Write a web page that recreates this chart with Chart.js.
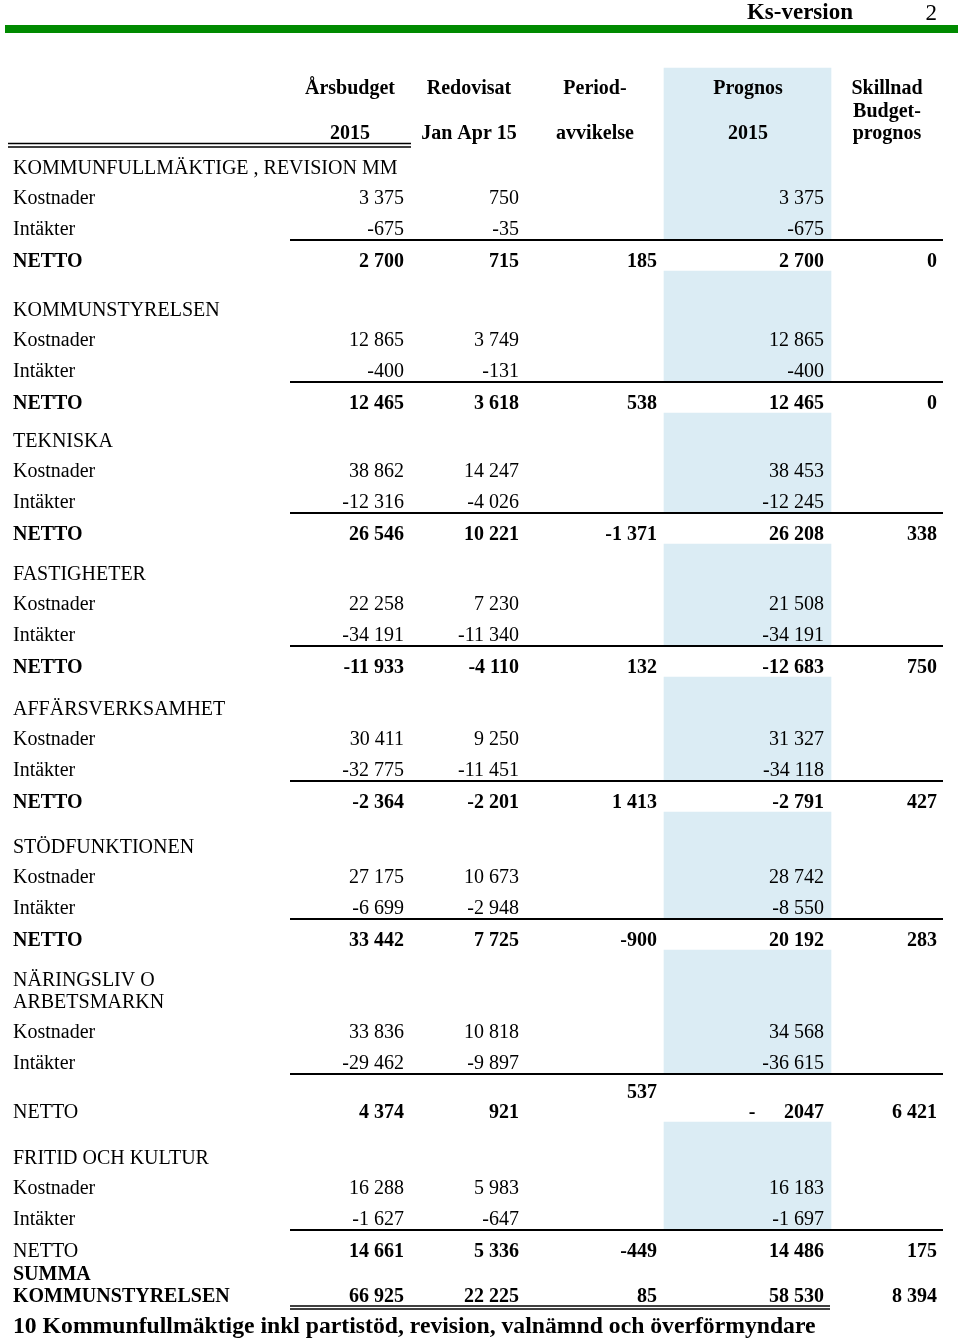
<!DOCTYPE html>
<html lang="sv">
<head>
<meta charset="utf-8">
<title>Ks-version 2</title>
<script src="https://cdn.jsdelivr.net/npm/chart.js@4/dist/chart.umd.min.js"></script>
<style>
  html, body { margin: 0; padding: 0; background: #fff; }
  #wrap { width: 960px; height: 1341px; position: relative; }
</style>
</head>
<body>
<div id="wrap"><canvas id="chart"></canvas></div>
<script>
// column headers
const headTop = ['Årsbudget', 'Redovisat', 'Period-', 'Prognos', 'Skillnad']
const headMid = ['', '', '', '', 'Budget-']
const headBottom = ['2015', 'Jan Apr 15', 'avvikelse', '2015', 'prognos']

const sections = ['KOMMUNFULLMÄKTIGE , REVISION MM', 'KOMMUNSTYRELSEN', 'TEKNISKA', 'FASTIGHETER',
  'AFFÄRSVERKSAMHET', 'STÖDFUNKTIONEN', 'NÄRINGSLIV O|ARBETSMARKN', 'FRITID OCH KULTUR']

// Kostnader (årsbudget, redovisat, prognos)
const kostBudget = [3375, 12865, 38862, 22258, 30411, 27175, 33836, 16288]
const kostRedovisat = [750, 3749, 14247, 7230, 9250, 10673, 10818, 5983]
const kostPrognos = [3375, 12865, 38453, 21508, 31327, 28742, 34568, 16183]

// Intäkter
const intBudget = [-675, -400, -12316, -34191, -32775, -6699, -29462, -1627]
const intRedovisat = [-35, -131, -4026, -11340, -11451, -2948, -9897, -647]
const intPrognos = [-675, -400, -12245, -34191, -34118, -8550, -36615, -1697]

// NETTO
const nettoBudget = [2700, 12465, 26546, -11933, -2364, 33442, 4374, 14661]
const nettoRedovisat = [715, 3618, 10221, -4110, -2201, 7725, 921, 5336]
const nettoAvvikelse = [185, 538, -1371, 132, 1413, -900, 537, -449]
const nettoPrognos = [2700, 12465, 26208, -12683, -2791, 20192, -2047, 14486]
const nettoSkillnad = [0, 0, 338, 750, 427, 283, 6421, 175]

const summaLabel = ['SUMMA', 'KOMMUNSTYRELSEN']
const summa = [66925, 22225, 85, 58530, 8394]

const pageTitle = 'Ks-version'
const pageNo = '2'
const footnote = '10 Kommunfullmäktige inkl partistöd, revision, valnämnd och överförmyndare'

// ---- layout (page units, x 0..960, y 0..1341) ----
const colRight = [404, 519, 657, 824, 937]
const colCenter = [350, 469, 595, 748, 887]
const labelX = 13
const sectionY = [167, 309, 440, 573, 708, 846, 979, 1157]
const plainNetto = [6, 7]      // sections where the NETTO label is not bold
const oddNetto = 6             // the row with the raised 537 and split "-  2047"
const serif = '"Liberation Serif", "Times New Roman", Times, serif'

function fmt(n) {
  let s = String(Math.abs(n)).replace(/\B(?=(\d{3})+(?!\d))/g, ' ')
  return (n < 0 ? '-' : '') + s
}

// row positions for every section
let rows = sections.map((name, i) => {
  let lines = name.split('|')
  let y0 = sectionY[i]
  let kost = y0 + 22 * (lines.length - 1) + 30
  let int = kost + 31
  return { lines: lines, y0: y0, kost: kost, int: int, rule: int + 12, netto: int + (i == oddNetto ? 49 : 32) }
})

// prognos shading: header block, then from under each NETTO row to the next rule
let bands = rows.map((r, i) => [i == 0 ? 68 : rows[i - 1].netto + 11, r.rule])

const tablePlugin = {
  id: 'tableText',
  afterDatasetsDraw(chart) {
    let ctx = chart.ctx
    let px = v => chart.scales.x.getPixelForValue(v)
    let py = v => chart.scales.y.getPixelForValue(v)
    let text = (t, x, y, align, bold, size) => {
      ctx.font = (bold ? 'bold ' : '') + (size || 20) + 'px ' + serif
      ctx.textAlign = align
      ctx.fillText(t, px(x), py(y) + 1.5)
    }
    let hline = (x1, x2, y, w) => {
      ctx.lineWidth = w
      ctx.beginPath()
      ctx.moveTo(px(x1), py(y))
      ctx.lineTo(px(x2), py(y))
      ctx.stroke()
    }
    ctx.save()
    ctx.fillStyle = '#000'
    ctx.strokeStyle = '#000'
    ctx.textBaseline = 'middle'

    // page head
    text(pageTitle, 853, 12, 'right', true, 23)
    text(pageNo, 937, 12, 'right', false, 23)
    ctx.fillStyle = '#008a00'
    ctx.fillRect(px(5), py(25), px(958) - px(5), py(33) - py(25))
    ctx.fillStyle = '#000'

    // column headers
    headTop.forEach((t, i) => text(t, colCenter[i], 87, 'center', true))
    headMid.forEach((t, i) => { if (t) text(t, colCenter[i], 110, 'center', true) })
    headBottom.forEach((t, i) => text(t, colCenter[i], 132, 'center', true))
    hline(8, 411, 143.5, 1.5)
    hline(8, 411, 147, 1.5)

    rows.forEach((r, i) => {
      r.lines.forEach((l, k) => text(l, labelX, r.y0 + 22 * k, 'left', false))
      text('Kostnader', labelX, r.kost, 'left', false)
      text(fmt(kostBudget[i]), colRight[0], r.kost, 'right', false)
      text(fmt(kostRedovisat[i]), colRight[1], r.kost, 'right', false)
      text(fmt(kostPrognos[i]), colRight[3], r.kost, 'right', false)

      text('Intäkter', labelX, r.int, 'left', false)
      text(fmt(intBudget[i]), colRight[0], r.int, 'right', false)
      text(fmt(intRedovisat[i]), colRight[1], r.int, 'right', false)
      text(fmt(intPrognos[i]), colRight[3], r.int, 'right', false)
      hline(290, 943, r.rule, 2)

      text('NETTO', labelX, r.netto, 'left', !plainNetto.includes(i))
      text(fmt(nettoBudget[i]), colRight[0], r.netto, 'right', true)
      text(fmt(nettoRedovisat[i]), colRight[1], r.netto, 'right', true)
      if (i == oddNetto) {
        text(fmt(nettoAvvikelse[i]), colRight[2], r.netto - 20, 'right', true)
        text('-', 752, r.netto, 'center', true)
        text(fmt(Math.abs(nettoPrognos[i])).replace(' ', ''), colRight[3], r.netto, 'right', true)
      } else {
        text(fmt(nettoAvvikelse[i]), colRight[2], r.netto, 'right', true)
        text(fmt(nettoPrognos[i]), colRight[3], r.netto, 'right', true)
      }
      text(fmt(nettoSkillnad[i]), colRight[4], r.netto, 'right', true)
    })

    // summa
    let sy = rows[rows.length - 1].netto + 23
    text(summaLabel[0], labelX, sy, 'left', true)
    text(summaLabel[1], labelX, sy + 22, 'left', true)
    summa.forEach((v, i) => text(fmt(v), colRight[i], sy + 22, 'right', true))
    hline(290, 830, sy + 33, 1.5)
    hline(290, 830, sy + 36, 1.5)

    text(footnote, labelX, sy + 52, 'left', true, 23.7)
    ctx.restore()
  }
}

let ctx = document.getElementById('chart').getContext('2d')
let chart = new Chart(ctx, {
  type: 'bar',
  data: {
    datasets: [{
      label: 'Prognos',
      data: bands.map(b => ({ x: colCenter[3] - 0.5, y: b })),
      backgroundColor: '#dbecf4',
      borderWidth: 0,
      barThickness: 167
    }]
  },
  options: {
    responsive: true,
    maintainAspectRatio: false,
    animation: false,
    layout: { padding: 0 },
    scales: {
      x: { type: 'linear', min: 0, max: 960, offset: false, display: false },
      y: { type: 'linear', min: 0, max: 1341, reverse: true, display: false }
    },
    plugins: { legend: { display: false }, tooltip: { enabled: false } }
  },
  plugins: [tablePlugin]
})
</script>
</body>
</html>
